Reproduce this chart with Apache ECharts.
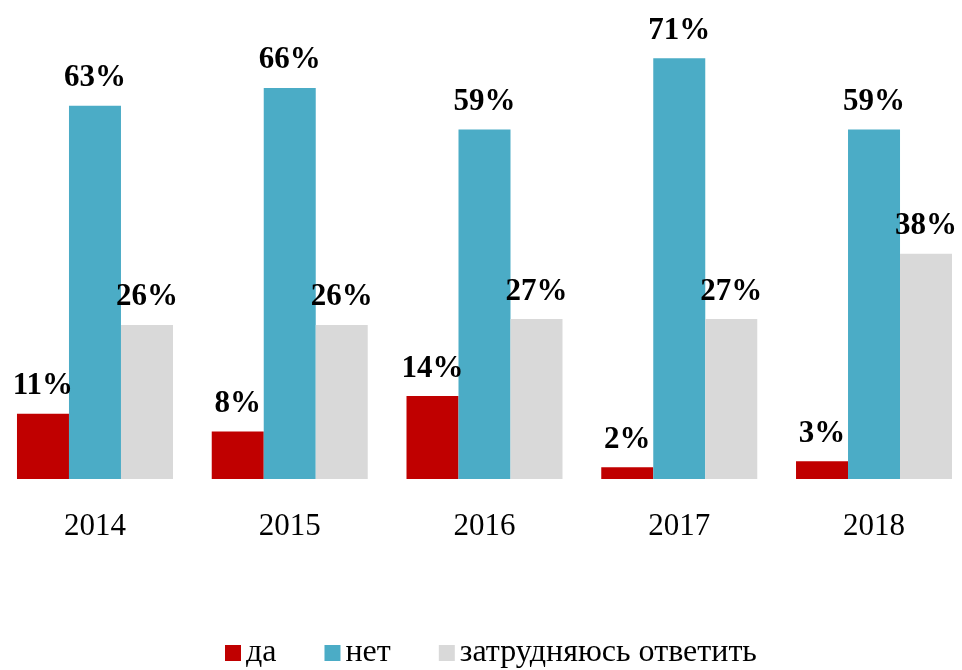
<!DOCTYPE html>
<html>
<head>
<meta charset="utf-8">
<script src="https://cdn.jsdelivr.net/npm/echarts@6/dist/echarts.min.js"></script>
<style>
  html, body { margin: 0; padding: 0; background: #fff; }
  #chart { width: 962px; height: 670px; }
</style>
</head>
<body>
<div id="chart"></div>
<script>
// данные
var years = ['2014', '2015', '2016', '2017', '2018'];
var seriesNames = ['да', 'нет', 'затрудняюсь ответить'];
var yesData = [11, 8, 14, 2, 3];
var noData = [63, 66, 59, 71, 59];
var hardData = [26, 26, 27, 27, 38];
var colors = ['#C00000', '#4BACC6', '#D9D9D9'];

var font = '"Liberation Serif", "Times New Roman", serif';

function makeSeries(name, data, color) {
    return {
        name: name,
        type: 'bar',
        data: data,
        barWidth: 52,
        barGap: '0%',
        itemStyle: { color: color },
        label: {
            show: true,
            position: 'top',
            distance: 12,
            formatter: '{c}%',
            fontFamily: font,
            fontWeight: 'bold',
            fontSize: 31,
            color: '#000'
        }
    };
}

var chart = echarts.init(document.getElementById('chart'));
chart.setOption({
    animation: false,
    textStyle: { fontFamily: font },
    grid: {
        left: -2.4, width: 973.8, top: 5, bottom: 191,
        containLabel: false, outerBoundsMode: 'none'
    },
    legend: {
        data: seriesNames,
        left: 220,
        top: 632,
        itemWidth: 16,
        itemHeight: 16,
        itemGap: 48,
        icon: 'rect',
        textStyle: { fontFamily: font, fontSize: 32, color: '#000' }
    },
    xAxis: {
        type: 'category',
        data: years,
        axisLine: { show: false },
        axisTick: { show: false },
        axisLabel: { margin: 32, fontFamily: font, fontSize: 31, color: '#000' }
    },
    yAxis: {
        type: 'value',
        min: 0,
        max: 80,
        show: false
    },
    series: [
        makeSeries(seriesNames[0], yesData, colors[0]),
        makeSeries(seriesNames[1], noData, colors[1]),
        makeSeries(seriesNames[2], hardData, colors[2])
    ]
});
</script>
</body>
</html>
